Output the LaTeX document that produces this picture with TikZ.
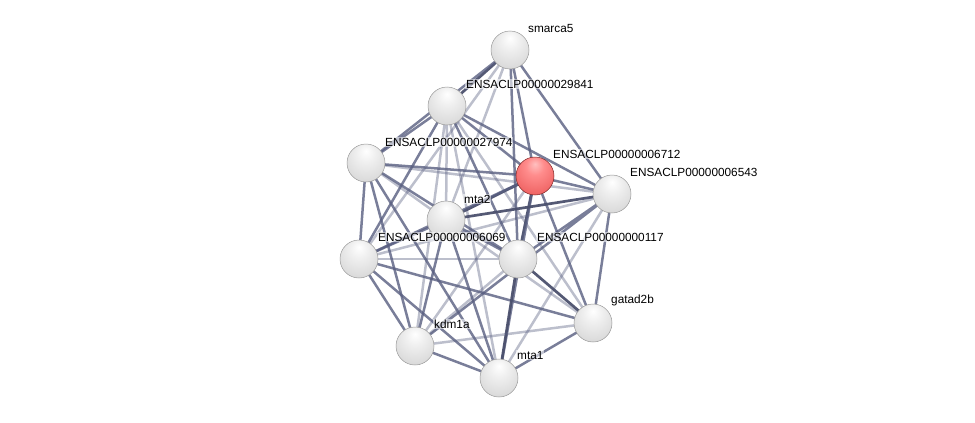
\documentclass[tikz,border=0pt]{standalone}
\usepackage{fontspec}
\setmainfont{Liberation Sans}
\pgfdeclareradialshading{sball}{\pgfpoint{0bp}{16bp}}{color(0bp)=(white); color(12bp)=(white!94!black); color(38bp)=(white!83!black); color(56bp)=(white!70!black); color(66bp)=(white!58!black)}
\pgfdeclareradialshading{rball}{\pgfpoint{0bp}{16bp}}{color(0bp)=(red!25!white); color(12bp)=(red!45!white); color(38bp)=(red!62!white!92!black); color(56bp)=(red!70!black!80!white); color(66bp)=(red!55!black)}
\begin{document}
\begin{tikzpicture}[x=1pt,y=-1pt,
  prot/.style={circle,minimum size=38pt,inner sep=0pt,draw=gray!80,line width=0.5pt,shading=sball},
  hit/.style={circle,minimum size=38pt,inner sep=0pt,draw=red!40!black!85,line width=0.5pt,shading=rball},
  lbl/.style={anchor=west,font=\fontsize{11.8}{13}\selectfont,inner sep=1pt,fill=white,fill opacity=0.55,text opacity=1},
  e/.style={draw=edgec,line width=2.5pt,opacity=0.8},
  el/.style={draw=edgec,line width=2.5pt,opacity=0.4},
  ed/.style={draw=edgec!85!black,line width=2.7pt,opacity=0.95}]
\definecolor{edgec}{RGB}{88,94,128}
\useasboundingbox (0,0) rectangle (975,423);
\coordinate (sm) at (510,50);
\coordinate (e841) at (447,106);
\coordinate (e974) at (366,163);
\coordinate (e712) at (535,176);
\coordinate (e543) at (612,194);
\coordinate (mta2) at (446,220);
\coordinate (e069) at (359,259);
\coordinate (e117) at (518,259);
\coordinate (gat) at (593,323);
\coordinate (kdm) at (415,346);
\coordinate (mta1) at (499,378);
% edges
\path[ed] (sm)--(e841);
\path[e] (sm)--(e974) (sm)--(e712) (sm)--(e543) (sm)--(e117);
\path[el] (sm)--(mta2) (sm)--(e069);
\path[e] (e841)--(e974) (e841)--(e712) (e841)--(e543) (e841)--(e069) (e841)--(e117);
\path[el] (e841)--(mta2) (e841)--(kdm) (e841)--(mta1) (e841)--(gat);
\path[e] (e974)--(e712) (e974)--(e069) (e974)--(kdm) (e974)--(mta1) (e974)--(e117);
\path[el] (e974)--(e543) (e974)--(mta2);
\path[ed] (e712)--(e117) (e712)--(mta2);
\path[e] (e712)--(e543) (e712)--(e069) (e712)--(gat) (e712)--(mta1);
\path[el] (e712)--(kdm);
\path[ed] (e543)--(mta2);
\path[e] (e543)--(e117) (e543)--(gat) (e543)--(kdm);
\path[el] (e543)--(mta1) (e543)--(e069);
\path[e] (mta2)--(e069) (mta2)--(e117) (mta2)--(kdm) (mta2)--(mta1);
\path[el] (mta2)--(gat);
\path[e] (e069)--(kdm) (e069)--(gat) (e069)--(mta1);
\path[el] (e069)--(e117);
\path[ed] (e117)--(mta1) (e117)--(gat);
\path[el] (e117)--(kdm);
\path[e] (gat)--(mta1) (kdm)--(mta1);
\path[el] (gat)--(kdm);
% nodes
\node[prot] (nsm) at (sm) {};
\node[prot] (n841) at (e841) {};
\node[prot] (n974) at (e974) {};
\node[hit] (n712) at (e712) {};
\node[prot] (n543) at (e543) {};
\node[prot] (nmta2) at (mta2) {};
\node[prot] (n069) at (e069) {};
\node[prot] (n117) at (e117) {};
\node[prot] (ngat) at (gat) {};
\node[prot] (nkdm) at (kdm) {};
\node[prot] (nmta1) at (mta1) {};
% labels
\node[lbl] (lsm) at (527,28) {smarca5};
\node[lbl] (l841) at (465,84) {ENSACLP00000029841};
\node[lbl] (l974) at (384,142) {ENSACLP00000027974};
\node[lbl] (l712) at (552,154) {ENSACLP00000006712};
\node[lbl] (l543) at (629,172) {ENSACLP00000006543};
\node[lbl] (lmta2) at (463,199) {mta2};
\node[lbl] (l069) at (377,237) {ENSACLP00000006069};
\node[lbl] (l117) at (536,237) {ENSACLP00000000117};
\node[lbl] (lgat) at (610,300) {gatad2b};
\node[lbl] (lkdm) at (433,324) {kdm1a};
\node[lbl] (lmta1) at (516,355) {mta1};
\end{tikzpicture}
\end{document}
